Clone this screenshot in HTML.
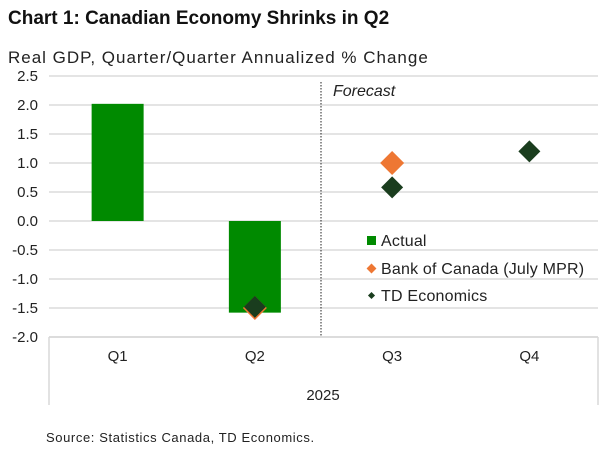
<!DOCTYPE html>
<html><head><meta charset="utf-8"><style>
body{margin:0;background:#fff;width:600px;height:448px;overflow:hidden;font-family:"Liberation Sans",sans-serif;}
svg text{font-family:"Liberation Sans",sans-serif;}
</style></head><body>
<svg id="chart" width="600" height="448">
<text x="8" y="24" font-size="19" font-weight="bold" fill="#111">Chart 1: Canadian Economy Shrinks in Q2</text>
<text x="8" y="63" font-size="17" letter-spacing="1" fill="#222">Real GDP, Quarter/Quarter Annualized % Change</text>
<g id="grid"></g><g id="marks"></g>
<line x1="321" y1="82" x2="321" y2="337" stroke="#222" stroke-width="1" stroke-dasharray="1.5,1.5"/>
<text x="333" y="96" font-size="16" font-style="italic" fill="#222">Forecast</text>
<g>
<rect x="367" y="236" width="9" height="9" fill="#008a00"/>
<text x="381" y="246" font-size="16" letter-spacing="0.2" fill="#222">Actual</text>
<rect x="368" y="265" width="7" height="7" fill="#ee7733" transform="rotate(45 371.5 268.5)"/>
<text x="381" y="274" font-size="16" letter-spacing="0.2" fill="#222">Bank of Canada (July MPR)</text>
<rect x="369" y="293" width="5" height="5" fill="#1a3d1e" transform="rotate(45 371.5 295.5)"/>
<text x="381" y="301" font-size="16" letter-spacing="0.2" fill="#222">TD Economics</text>
</g>
<text x="323" y="400" font-size="15" fill="#222" text-anchor="middle">2025</text>
<text x="46" y="442" font-size="13" letter-spacing="0.6" fill="#222">Source: Statistics Canada, TD Economics.</text>
</svg>
<script>
const categories=["Q1","Q2","Q3","Q4"];
const actual=[2.02,-1.58,null,null];
const boc=[null,-1.5,1.0,null];
const td=[null,-1.48,0.58,1.2];
const yTicks=[2.5,2.0,1.5,1.0,0.5,0.0,-0.5,-1.0,-1.5,-2.0];
const NS="http://www.w3.org/2000/svg";
const L=49,R=598,yTop=76,yBot=337,vMax=2.5,vMin=-2.0;
const band=(R-L)/categories.length;
const x=i=>L+band*(i+0.5);
const y=v=>yTop+(vMax-v)/(vMax-vMin)*(yBot-yTop);
const grid=document.getElementById('grid'),marks=document.getElementById('marks');
function mk(tag,attrs,parent){const e=document.createElementNS(NS,tag);for(const k in attrs)e.setAttribute(k,attrs[k]);parent.appendChild(e);return e;}
yTicks.forEach(t=>{
 const ln=mk('line',{x1:L,x2:R,y1:y(t),y2:y(t),stroke:t===vMin?'#d0d0d0':'#dcdcdc','stroke-width':1.5},grid);
 
 
 const tx=mk('text',{x:38,y:y(t)+5,'font-size':15,fill:'#222','text-anchor':'end'},grid);
 tx.textContent=t.toFixed(1);
 
 
});
[L,R].forEach(xx=>{const v=mk('line',{x1:xx,x2:xx,y1:yBot,y2:405,stroke:'#d8d8d8','stroke-width':1.5},grid);
 
 });
categories.forEach((c,i)=>{
 const tx=mk('text',{x:x(i),y:361,'font-size':15,fill:'#222','text-anchor':'middle'},grid);
 tx.textContent=c;
 
 
 if(actual[i]!==null){
  const v=actual[i];const bw=52;
  const b=mk('rect',{x:x(i)-bw/2,y:Math.min(y(v),y(0)),width:bw,height:Math.abs(y(v)-y(0)),fill:'#008a00'},marks);
  
  
 }
});
function diamond(i,v,size,col,name){
 const cx=x(i),cy=y(v);
 const p=mk('polygon',{points:`${cx},${cy-size} ${cx+size},${cy} ${cx},${cy+size} ${cx-size},${cy}`,fill:col},marks);
 
 
}
boc.forEach((v,i)=>{if(v!==null)diamond(i,v,12,'#ee7733','point-boc-'+categories[i].toLowerCase());});
td.forEach((v,i)=>{if(v!==null)diamond(i,v,11,'#1a3d1e','point-td-'+categories[i].toLowerCase());});
</script>
</body></html>
